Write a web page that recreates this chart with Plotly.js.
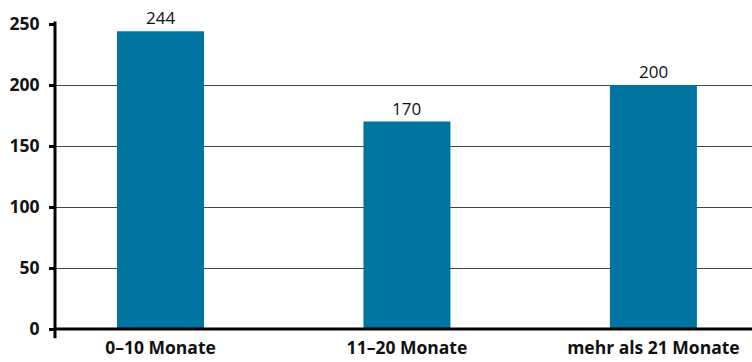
<!DOCTYPE html>
<html>
<head>
<meta charset="utf-8">
<script src="https://cdn.plot.ly/plotly-3.0.1.min.js"></script>
<style>html,body{margin:0;padding:0;background:#fff;}#chart{width:752px;height:362px;}</style>
</head>
<body>
<div id="chart"></div>
<script>
const categories = ["0–10 Monate", "11–20 Monate", "mehr als 21 Monate"];
const values = [244, 170, 200];
const yTicks = [0, 50, 100, 150, 200, 250];

const trace = {
  type: "bar",
  x: categories,
  y: values,
  marker: {color: "#0074a0"},
  width: 0.353,
  hoverinfo: "skip"
};

const annotations = categories.map((c, i) => ({
  x: c, y: values[i], xref: "x", yref: "y",
  text: String(values[i]),
  showarrow: false,
  yanchor: "bottom", yshift: 1,
  bgcolor: "#ffffff",
  borderpad: 0,
  font: {family: "Open Sans, sans-serif", size: 17, color: "#111"}
}));

const layout = {
  width: 752, height: 362,
  margin: {l: 55, r: 0, t: 24, b: 33},
  paper_bgcolor: "#fff", plot_bgcolor: "#fff",
  showlegend: false,
  xaxis: {
    type: "category",
    range: [-0.428, 2.4],
    showgrid: false,
    showline: false,
    ticks: "",
    ticklabelstandoff: 6,
    tickfont: {family: "Open Sans, sans-serif", size: 17.5, color: "#111", weight: "bold"},
    fixedrange: true
  },
  yaxis: {
    range: [0, 250],
    tickvals: yTicks,
    ticktext: yTicks.map(String),
    showgrid: true,
    gridcolor: "#444",
    gridwidth: 1,
    zeroline: false,
    showline: false,
    ticks: "outside",
    ticklen: 5,
    tickwidth: 3,
    tickcolor: "#000",
    ticklabelstandoff: 6,
    tickfont: {family: "Open Sans, sans-serif", size: 17.5, color: "#111", weight: "bold"},
    fixedrange: true
  },
  shapes: [
    {type: "line", xref: "paper", yref: "paper", x0: 0, x1: 1, y0: 0, y1: 0, line: {color: "#000", width: 3}},
    {type: "line", xref: "paper", yref: "paper", x0: 0, x1: 0, y0: -0.03, y1: 1.008, line: {color: "#000", width: 3}}
  ],
  annotations: annotations
};

Plotly.newPlot("chart", [trace], layout, {displayModeBar: false, staticPlot: true});
</script>
</body>
</html>
